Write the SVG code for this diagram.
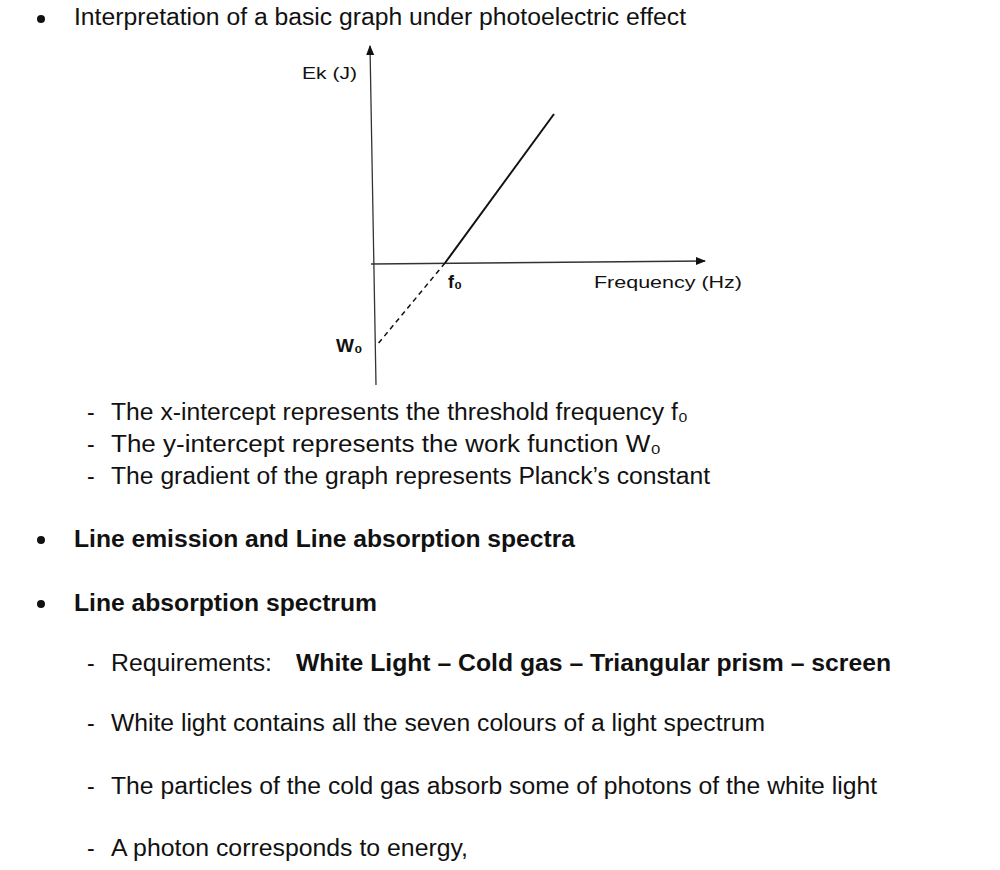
<svg xmlns="http://www.w3.org/2000/svg" width="1000" height="870" viewBox="0 0 1000 870">
<style>
text{font-family:"Liberation Sans",Arial,sans-serif;fill:#111}
.t{font-size:23px}
.b{font-size:23px;font-weight:bold}
.s{font-size:17px}
.ax{stroke:#333;stroke-width:1.3;fill:none}
</style>
<defs><marker id="ar" viewBox="0 0 10 10" refX="9" refY="5" markerWidth="8" markerHeight="8" orient="auto"><path d="M0,1 L10,5 L0,9 Z" fill="#111"/></marker></defs>
<rect width="1000" height="870" fill="#fff"/>
<g id="text">
<circle cx="41" cy="19" r="4" fill="#111"/><text class="t" x="74" y="25" textLength="612" lengthAdjust="spacingAndGlyphs">Interpretation of a basic graph under photoelectric effect</text>
<text class="t" x="87" y="420">-</text><text class="t" x="111" y="420" textLength="577" lengthAdjust="spacingAndGlyphs">The x-intercept represents the threshold frequency f₀</text>
<text class="t" x="87" y="452">-</text><text class="t" x="111" y="452" textLength="550" lengthAdjust="spacingAndGlyphs">The y-intercept represents the work function W₀</text>
<text class="t" x="87" y="484">-</text><text class="t" x="111" y="484" textLength="599" lengthAdjust="spacingAndGlyphs">The gradient of the graph represents Planck’s constant</text>
<circle cx="41" cy="540" r="4" fill="#111"/><text class="b" x="74" y="547" textLength="501" lengthAdjust="spacingAndGlyphs">Line emission and Line absorption spectra</text>
<circle cx="41" cy="604" r="4" fill="#111"/><text class="b" x="74" y="611" textLength="303" lengthAdjust="spacingAndGlyphs">Line absorption spectrum</text>
<text class="t" x="87" y="671">-</text><text class="t" x="111" y="671" textLength="161" lengthAdjust="spacingAndGlyphs">Requirements:</text><text class="b" x="296" y="671" textLength="595" lengthAdjust="spacingAndGlyphs">White Light – Cold gas – Triangular prism – screen</text>
<text class="t" x="87" y="731">-</text><text class="t" x="111" y="731" textLength="654" lengthAdjust="spacingAndGlyphs">White light contains all the seven colours of a light spectrum</text>
<text class="t" x="87" y="794">-</text><text class="t" x="111" y="794" textLength="766" lengthAdjust="spacingAndGlyphs">The particles of the cold gas absorb some of photons of the white light</text>
<text class="t" x="87" y="856">-</text><text class="t" x="111" y="856" textLength="357" lengthAdjust="spacingAndGlyphs">A photon corresponds to energy,</text>
</g>
<g id="graph">
<line class="ax" x1="376" y1="385" x2="370" y2="46" marker-end="url(#ar)"/>
<line class="ax" x1="371" y1="264" x2="705" y2="261" marker-end="url(#ar)"/>
<line x1="445" y1="263" x2="554" y2="114" stroke="#111" stroke-width="2"/>
<line x1="445" y1="263" x2="377" y2="345" stroke="#111" stroke-width="1.5" stroke-dasharray="5,4"/>
<text class="s" x="302" y="79" textLength="55" lengthAdjust="spacingAndGlyphs">Ek (J)</text>
<text x="448" y="288" font-size="18" font-weight="bold">f₀</text>
<text class="s" x="594" y="288" textLength="148" lengthAdjust="spacingAndGlyphs">Frequency (Hz)</text>
<text x="336" y="352" font-size="19" font-weight="bold">W₀</text>
</g>
</svg>
